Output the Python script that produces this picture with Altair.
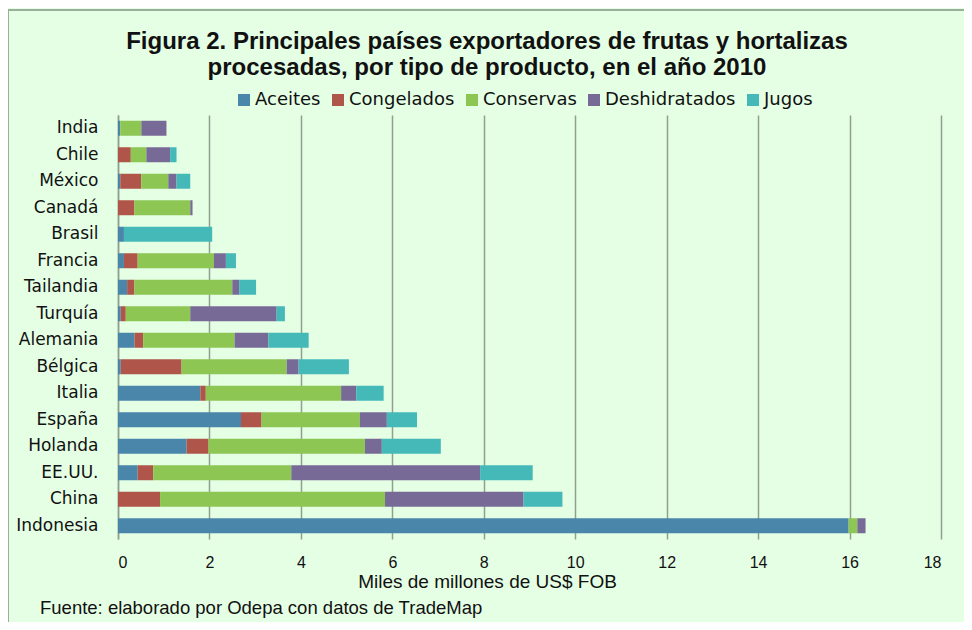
import altair as alt
import pandas as pd

countries = ["India", "Chile", "México", "Canadá", "Brasil", "Francia", "Tailandia", "Turquía",
             "Alemania", "Bélgica", "Italia", "España", "Holanda", "EE.UU.", "China", "Indonesia"]
products = ["Aceites", "Congelados", "Conservas", "Deshidratados", "Jugos"]
aceites =       [0.05, 0.00, 0.05, 0.00, 0.13, 0.13, 0.20, 0.06, 0.36, 0.06, 1.80, 2.69, 1.50, 0.43, 0.00, 15.98]
congelados =    [0.00, 0.28, 0.46, 0.36, 0.00, 0.30, 0.16, 0.11, 0.19, 1.33, 0.12, 0.45, 0.48, 0.34, 0.92, 0.00]
conservas =     [0.46, 0.34, 0.59, 1.22, 0.00, 1.67, 2.14, 1.41, 2.00, 2.30, 2.96, 2.15, 3.42, 3.02, 4.92, 0.19]
deshidratados = [0.55, 0.52, 0.18, 0.05, 0.00, 0.26, 0.15, 1.89, 0.74, 0.26, 0.33, 0.59, 0.37, 4.13, 3.03, 0.18]
jugos =         [0.00, 0.14, 0.30, 0.00, 1.93, 0.22, 0.37, 0.18, 0.88, 1.10, 0.60, 0.66, 1.29, 1.15, 0.85, 0.00]
colors = ["#4A86AA", "#B0554A", "#8DC653", "#786A96", "#45B8B8"]
x_ticks = [0, 2, 4, 6, 8, 10, 12, 14, 16, 18]

title_lines = ["Figura 2. Principales países exportadores de frutas y hortalizas",
               "procesadas, por tipo de producto, en el año 2010"]
x_title = "Miles de millones de US$ FOB"
footer = "Fuente:  elaborado por Odepa con datos de TradeMap"

series = [aceites, congelados, conservas, deshidratados, jugos]
rows = []
for pi, (p, vals) in enumerate(zip(products, series)):
    for c, v in zip(countries, vals):
        rows.append({"País": c, "Producto": p, "Valor": v, "orden": pi})
df = pd.DataFrame(rows)

BG = "#E5FFE5"
GRID = "#8FA08F"
TXT = "#111111"

bars = alt.Chart(df).mark_bar(size=15).encode(
    y=alt.Y("País:N", sort=countries, title=None,
            axis=alt.Axis(labelFont="DejaVu Sans", labelFontSize=17, labelColor=TXT,
                          labelPadding=20, ticks=False, domain=True, domainColor=GRID,
                          domainWidth=1.5, labelLimit=200)),
    x=alt.X("Valor:Q", stack="zero", title=x_title,
            scale=alt.Scale(domain=[0, 18], nice=False),
            axis=alt.Axis(values=x_ticks, grid=True, gridColor=GRID, gridWidth=1.5, gridOpacity=1,
                          ticks=False, domain=False, labelFont="Liberation Sans", labelFontSize=16,
                          labelColor=TXT, labelPadding=15, titleFont="Liberation Sans",
                          titleFontSize=19, titleFontWeight="normal", titleColor=TXT,
                          titlePadding=2, titleX=369, titleAnchor="start", titleAlign="center")),
    color=alt.Color("Producto:N", sort=products,
                    scale=alt.Scale(domain=products, range=colors),
                    legend=alt.Legend(title=None, orient="none", direction="horizontal",
                                      legendX=117, legendY=-24, symbolType="square",
                                      symbolSize=144, symbolStrokeWidth=0, labelFont="DejaVu Sans",
                                      labelFontSize=18, labelColor=TXT, labelOffset=2,
                                      columnPadding=8, padding=0)),
    order=alt.Order("orden:Q", sort="ascending"),
)

title1 = alt.Chart(pd.DataFrame({"t": [title_lines[0]]})).mark_text(
    align="center", baseline="middle", font="Liberation Sans", fontSize=24,
    fontWeight="bold", color=TXT
).encode(x=alt.value(369), y=alt.value(-73), text="t:N")
title2 = alt.Chart(pd.DataFrame({"t": [title_lines[1]]})).mark_text(
    align="center", baseline="middle", font="Liberation Sans", fontSize=24,
    fontWeight="bold", color=TXT
).encode(x=alt.value(369), y=alt.value(-47), text="t:N")

foot = alt.Chart(pd.DataFrame({"t": [footer]})).mark_text(
    align="left", baseline="middle", font="Liberation Sans", fontSize=18.5, color=TXT
).encode(x=alt.value(-78), y=alt.value(493), text="t:N")

frame = alt.Chart(pd.DataFrame({"a": [0]})).mark_rect(
    fill=None, stroke="#9AAE9A", strokeWidth=2
).encode(x=alt.value(-110), x2=alt.value(900), y=alt.value(-105), y2=alt.value(540))

chart = alt.layer(frame, bars, title1, title2, foot).properties(
    width=823, height=424,
    padding={"left": 110, "top": 107, "right": 23, "bottom": 83},
    autosize=alt.AutoSizeParams(type="none"),
    background=BG,
).configure_view(stroke=None)

chart.save("out.html", embed_options={"renderer": "svg", "actions": False})
